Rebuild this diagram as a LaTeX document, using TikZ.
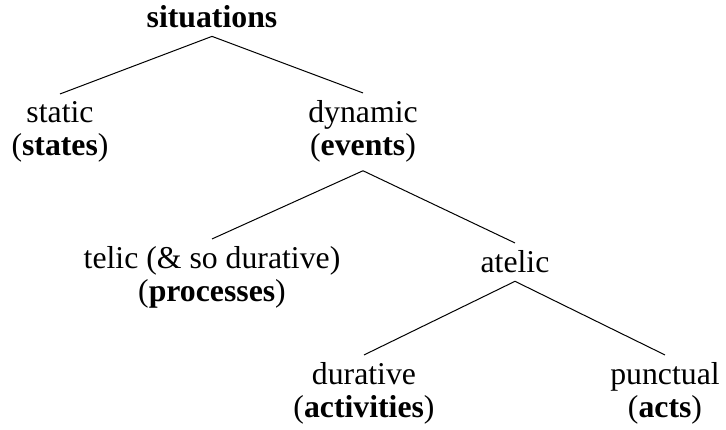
\documentclass[tikz,border=0pt]{standalone}
\usepackage{fontspec}
\setmainfont{Liberation Serif}
\usepackage{tikz}
\usetikzlibrary{positioning}

\tikzset{
  lbl/.style={align=center, inner sep=3pt, font=\fontsize{12.7}{13.2}\selectfont},
  branch/.style={draw=black, line width=0.4pt}
}

\begin{document}
\begin{tikzpicture}[x=0.4pt, y=-0.4pt] % situation types tree

\useasboundingbox (0,0) rectangle (726,430);

%nodes (base = last line)
\node[lbl, anchor=base] (sit) at (212,28) {\textbf{situations}};
\node[lbl, anchor=base] (stat) at (60,156) {static\\(\textbf{states})};
\node[lbl, anchor=base] (dyn) at (363,156) {dynamic\\(\textbf{events})};
\node[lbl, anchor=base] (tel) at (212,302) {telic (\& so durative)\\(\textbf{processes})};
\node[lbl, anchor=base] (atel) at (515,273) {atelic};
\node[lbl, anchor=base] (dur) at (364,418) {durative\\(\textbf{activities})};
\node[lbl, anchor=base] (punc) at (665,418) {punctual\\(\textbf{acts})};

%branches
\draw[branch] (sit.south) -- (stat.north);
\draw[branch] (sit.south) -- (dyn.north);
\draw[branch] (dyn.south) -- (tel.north);
\draw[branch] (dyn.south) -- (atel.north);
\draw[branch] (atel.south) -- (dur.north);
\draw[branch] (atel.south) -- (punc.north);

\end{tikzpicture}
\end{document}
